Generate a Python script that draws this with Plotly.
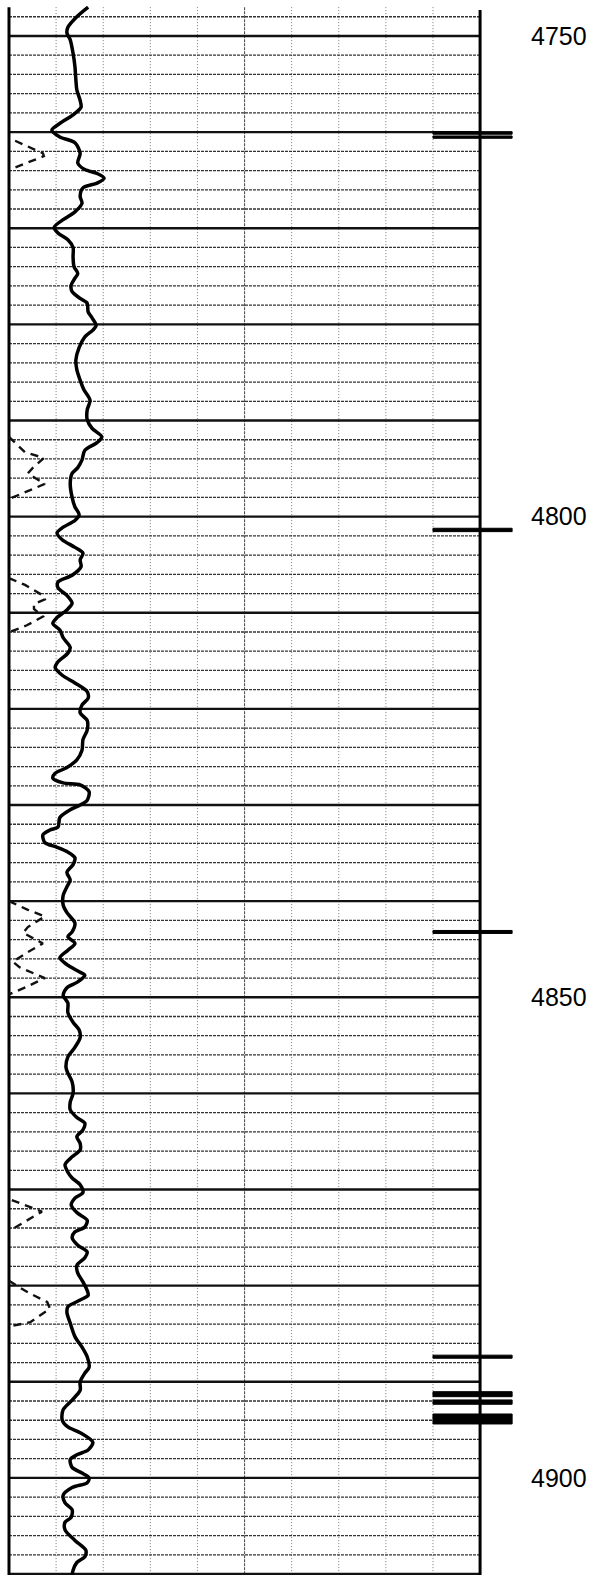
import plotly.graph_objects as go

# ---------------- data ----------------
# Main log curve (solid): depth (ft) and value (0-100 scale across 10 divisions)
gr_depth = [4747.0, 4748.0, 4749.1, 4749.7, 4750.4, 4751.8, 4753.2, 4754.6, 4755.6, 4756.7,
            4757.4, 4758.2, 4759.1, 4759.8, 4760.5, 4761.1, 4762.2, 4763.2, 4763.9, 4764.3,
            4764.8, 4765.3, 4765.8, 4766.7, 4767.4, 4768.3, 4769.1, 4769.9, 4770.5, 4771.2,
            4772.0, 4773.0, 4774.0, 4774.7, 4775.2, 4775.9, 4776.6, 4777.3, 4777.8, 4778.7,
            4779.3, 4780.1, 4780.6, 4781.3, 4782.4, 4783.7, 4784.7, 4785.8, 4786.8, 4787.9,
            4788.9, 4789.9, 4790.8, 4791.7, 4792.3, 4793.1, 4794.1, 4794.9, 4795.5, 4796.5,
            4798.0, 4799.0, 4799.8, 4800.4, 4801.1, 4801.7, 4802.4, 4803.2, 4803.8, 4804.5,
            4805.2, 4806.1, 4806.8, 4807.4, 4808.2, 4809.0, 4809.7, 4810.5, 4811.1, 4811.8,
            4812.6, 4813.6, 4814.2, 4815.1, 4815.7, 4816.5, 4817.3, 4818.2, 4818.9, 4819.6,
            4820.4, 4821.2, 4822.2, 4823.2, 4824.3, 4825.3, 4826.1, 4826.7, 4827.2, 4827.7,
            4827.9, 4828.6, 4829.5, 4830.0, 4830.5, 4831.3, 4832.3, 4832.6, 4833.1, 4833.9,
            4834.4, 4834.9, 4835.5, 4836.2, 4837.0, 4837.8, 4838.5, 4839.4, 4840.4, 4841.2,
            4842.3, 4843.2, 4843.7, 4844.4, 4845.1, 4845.9, 4846.6, 4847.4, 4847.7, 4848.4,
            4849.0, 4849.8, 4850.6, 4851.6, 4852.6, 4853.4, 4854.2, 4855.2, 4856.2, 4857.3,
            4857.9, 4858.8, 4860.0, 4860.9, 4861.7, 4862.5, 4863.1, 4863.8, 4864.5, 4865.2,
            4865.9, 4866.6, 4867.4, 4868.2, 4868.8, 4869.5, 4870.3, 4870.9, 4871.6, 4872.4,
            4873.2, 4873.9, 4874.4, 4875.0, 4875.8, 4876.5, 4877.1, 4877.9, 4878.7, 4879.6,
            4880.5, 4881.0, 4881.5, 4882.2, 4882.8, 4883.9, 4885.3, 4886.4, 4887.4, 4888.5,
            4889.1, 4890.0, 4890.9, 4891.9, 4892.9, 4894.0, 4894.7, 4895.3, 4896.3, 4897.1,
            4897.6, 4898.1, 4898.9, 4899.5, 4900.0, 4900.5, 4901.0, 4901.8, 4902.6, 4903.3,
            4904.1, 4904.6, 4905.4, 4906.5, 4907.5, 4908.2, 4908.8, 4909.6, 4910.1]
gr_value = [16.8, 14.4, 12.5, 12.3, 13.0, 13.6, 14.0, 14.2, 14.4, 15.1,
            15.3, 13.6, 10.8, 9.1, 10.8, 14.0, 15.1, 14.6, 16.1, 18.7,
            20.2, 18.7, 15.7, 15.1, 15.5, 14.0, 11.5, 9.6, 10.4, 12.5,
            13.6, 13.6, 13.8, 14.6, 14.0, 13.2, 13.4, 15.1, 16.6, 16.8,
            17.6, 18.5, 17.8, 16.1, 14.9, 14.2, 14.4, 15.1, 15.9, 17.2,
            16.6, 16.6, 17.6, 19.7, 18.7, 16.1, 15.5, 14.6, 13.4, 13.0,
            13.4, 14.0, 14.9, 14.0, 11.5, 10.2, 11.3, 14.0, 15.7, 15.1,
            15.3, 13.4, 10.4, 10.4, 12.3, 13.4, 12.3, 10.2, 9.3, 10.8,
            11.5, 13.0, 12.5, 10.4, 9.8, 11.3, 14.0, 16.6, 16.8, 15.5,
            15.1, 16.6, 16.6, 15.7, 15.5, 14.4, 12.3, 9.8, 9.3, 11.5,
            15.1, 17.0, 16.6, 15.1, 13.0, 10.8, 10.4, 8.7, 7.2, 7.6,
            10.2, 12.5, 14.0, 13.6, 12.3, 13.0, 12.3, 11.5, 11.5, 12.3,
            14.0, 13.4, 12.5, 14.0, 12.5, 10.8, 12.3, 15.1, 16.1, 14.6,
            12.3, 11.5, 12.5, 12.5, 13.6, 14.9, 15.1, 14.0, 12.5, 12.1,
            12.5, 13.4, 13.6, 13.0, 13.0, 14.4, 16.1, 15.7, 14.4, 15.1,
            15.1, 13.4, 11.9, 12.5, 13.4, 15.1, 15.7, 14.0, 13.2, 14.4,
            16.6, 16.1, 14.0, 13.4, 14.6, 16.6, 16.1, 14.4, 14.6, 15.7,
            16.6, 16.8, 15.1, 12.5, 12.3, 13.0, 14.0, 15.5, 16.6, 17.0,
            16.1, 15.1, 15.1, 13.4, 11.5, 11.3, 12.5, 15.1, 17.8, 16.8,
            14.4, 13.0, 13.4, 15.5, 17.0, 16.6, 13.4, 11.5, 11.9, 13.4,
            13.2, 11.9, 11.9, 14.0, 16.3, 16.1, 14.4, 13.6, 13.4]

# Secondary curve (dashed) - only on-scale intervals; None = off scale
aux_depth = [4760.9, 4762.2, 4762.5, 4763.5, 4763.9, None,
             4791.7, 4793.3, 4793.9, 4794.9, 4795.5, 4796.6, 4798.0, 4798.2, None,
             4806.4, 4807.1, 4808.2, 4808.6, 4809.1, 4809.6, 4810.4, 4811.3, 4812.0, None,
             4840.0, 4840.9, 4841.6, 4842.7, 4843.3, 4844.4, 4845.3, 4846.3, 4846.9, 4848.0,
             4848.9, 4849.5, 4849.7, None,
             4871.1, 4872.3, 4874.0, None,
             4879.5, 4880.7, 4881.7, 4882.4, 4883.8, 4884.2, 4884.6]
aux_value = [1.3, 7.2, 7.4, 2.5, 0.2, None,
             0.0, 3.4, 7.4, 5.1, 4.0, 7.6, 0.8, 0.0, None,
             0.0, 3.4, 7.2, 7.6, 5.3, 5.3, 7.2, 3.8, 0.2, None,
             0.0, 4.0, 7.6, 4.0, 3.0, 7.2, 4.0, 0.8, 2.3, 7.6,
             3.8, 0.8, 0.0, None,
             0.6, 7.0, 1.1, None,
             0.0, 4.0, 8.1, 8.7, 4.5, 0.6, 0.0]

# Depth-track markers (top, bottom in ft)
mark_top = [4759.95, 4760.40, 4801.21, 4843.05, 4887.23, 4891.03, 4891.89, 4893.35]
mark_bot = [4760.22, 4760.64, 4801.56, 4843.36, 4887.55, 4891.55, 4892.34, 4894.39]

depth_labels = [4750, 4800, 4850, 4900]

# ---------------- scales / layout ----------------
TOP, BOT = 4746.88, 4910.1
GRID_TOP = 4747.0
X_MIN, X_MAX = 0.0, 100.0
MARK_X0, MARK_X1 = 90.0, 106.8

fig = go.Figure()

# vertical grid lines
vx, vy = [], []
for i in range(1, 10):
    if i == 5:
        continue
    x = X_MIN + i * 10
    vx += [x, x, None]
    vy += [GRID_TOP, BOT, None]
fig.add_trace(go.Scatter(x=vx, y=vy, mode="lines",
                         line=dict(color="#777", width=1, dash="1px,2px"), hoverinfo="skip"))
fig.add_trace(go.Scatter(x=[50, 50], y=[GRID_TOP, BOT], mode="lines",
                         line=dict(color="#555", width=1.1, dash="3px,1px"), hoverinfo="skip"))

# horizontal grid lines
tx, ty, kx, ky = [], [], [], []
d = 4748
while d <= BOT:
    if d % 10 == 0:
        kx += [X_MIN, X_MAX, None]
        ky += [d, d, None]
    else:
        tx += [X_MIN, X_MAX, None]
        ty += [d, d, None]
    d += 2
fig.add_trace(go.Scatter(x=tx, y=ty, mode="lines",
                         line=dict(color="#333", width=1.3, dash="3px,1px"), hoverinfo="skip"))
fig.add_trace(go.Scatter(x=kx, y=ky, mode="lines",
                         line=dict(color="#111", width=2.4), hoverinfo="skip"))

# borders
fig.add_trace(go.Scatter(x=[X_MIN, X_MIN, None, X_MAX, X_MAX],
                         y=[GRID_TOP, BOT, None, GRID_TOP + 0.3, BOT], mode="lines",
                         line=dict(color="#000", width=3), hoverinfo="skip"))

# markers
for t, b in zip(mark_top, mark_bot):
    fig.add_trace(go.Scatter(x=[MARK_X0, MARK_X1, MARK_X1, MARK_X0, MARK_X0],
                             y=[t, t, b, b, t], mode="lines", fill="toself",
                             fillcolor="#000", line=dict(color="#000", width=1),
                             hoverinfo="skip"))

# dashed curve
fig.add_trace(go.Scatter(x=aux_value, y=aux_depth, mode="lines", connectgaps=False,
                         line=dict(color="#111", width=2.4, dash="8px,6px"),
                         hoverinfo="skip"))

# main curve
fig.add_trace(go.Scatter(x=gr_value, y=gr_depth, mode="lines",
                         line=dict(color="#000", width=3.5, shape="spline", smoothing=0.8),
                         hoverinfo="skip"))

fig.update_layout(
    width=597, height=1575,
    margin=dict(l=4, r=83, t=6, b=0),
    paper_bgcolor="white", plot_bgcolor="white",
    showlegend=False,
    xaxis=dict(range=[-1.06, 107.2], visible=False, fixedrange=True),
    yaxis=dict(range=[BOT, TOP], side="right", showgrid=False, zeroline=False,
               showline=False, ticks="", tickvals=depth_labels,
               ticktext=[str(v) for v in depth_labels], ticklabelstandoff=16,
               tickfont=dict(family="Liberation Sans, Arial, sans-serif", size=25,
                             color="#000"),
               fixedrange=True),
)

fig.write_html("out.html",
               config={"displayModeBar": False},
               post_script="document.body.style.margin='0';"
                           "document.body.style.overflow='hidden';")
